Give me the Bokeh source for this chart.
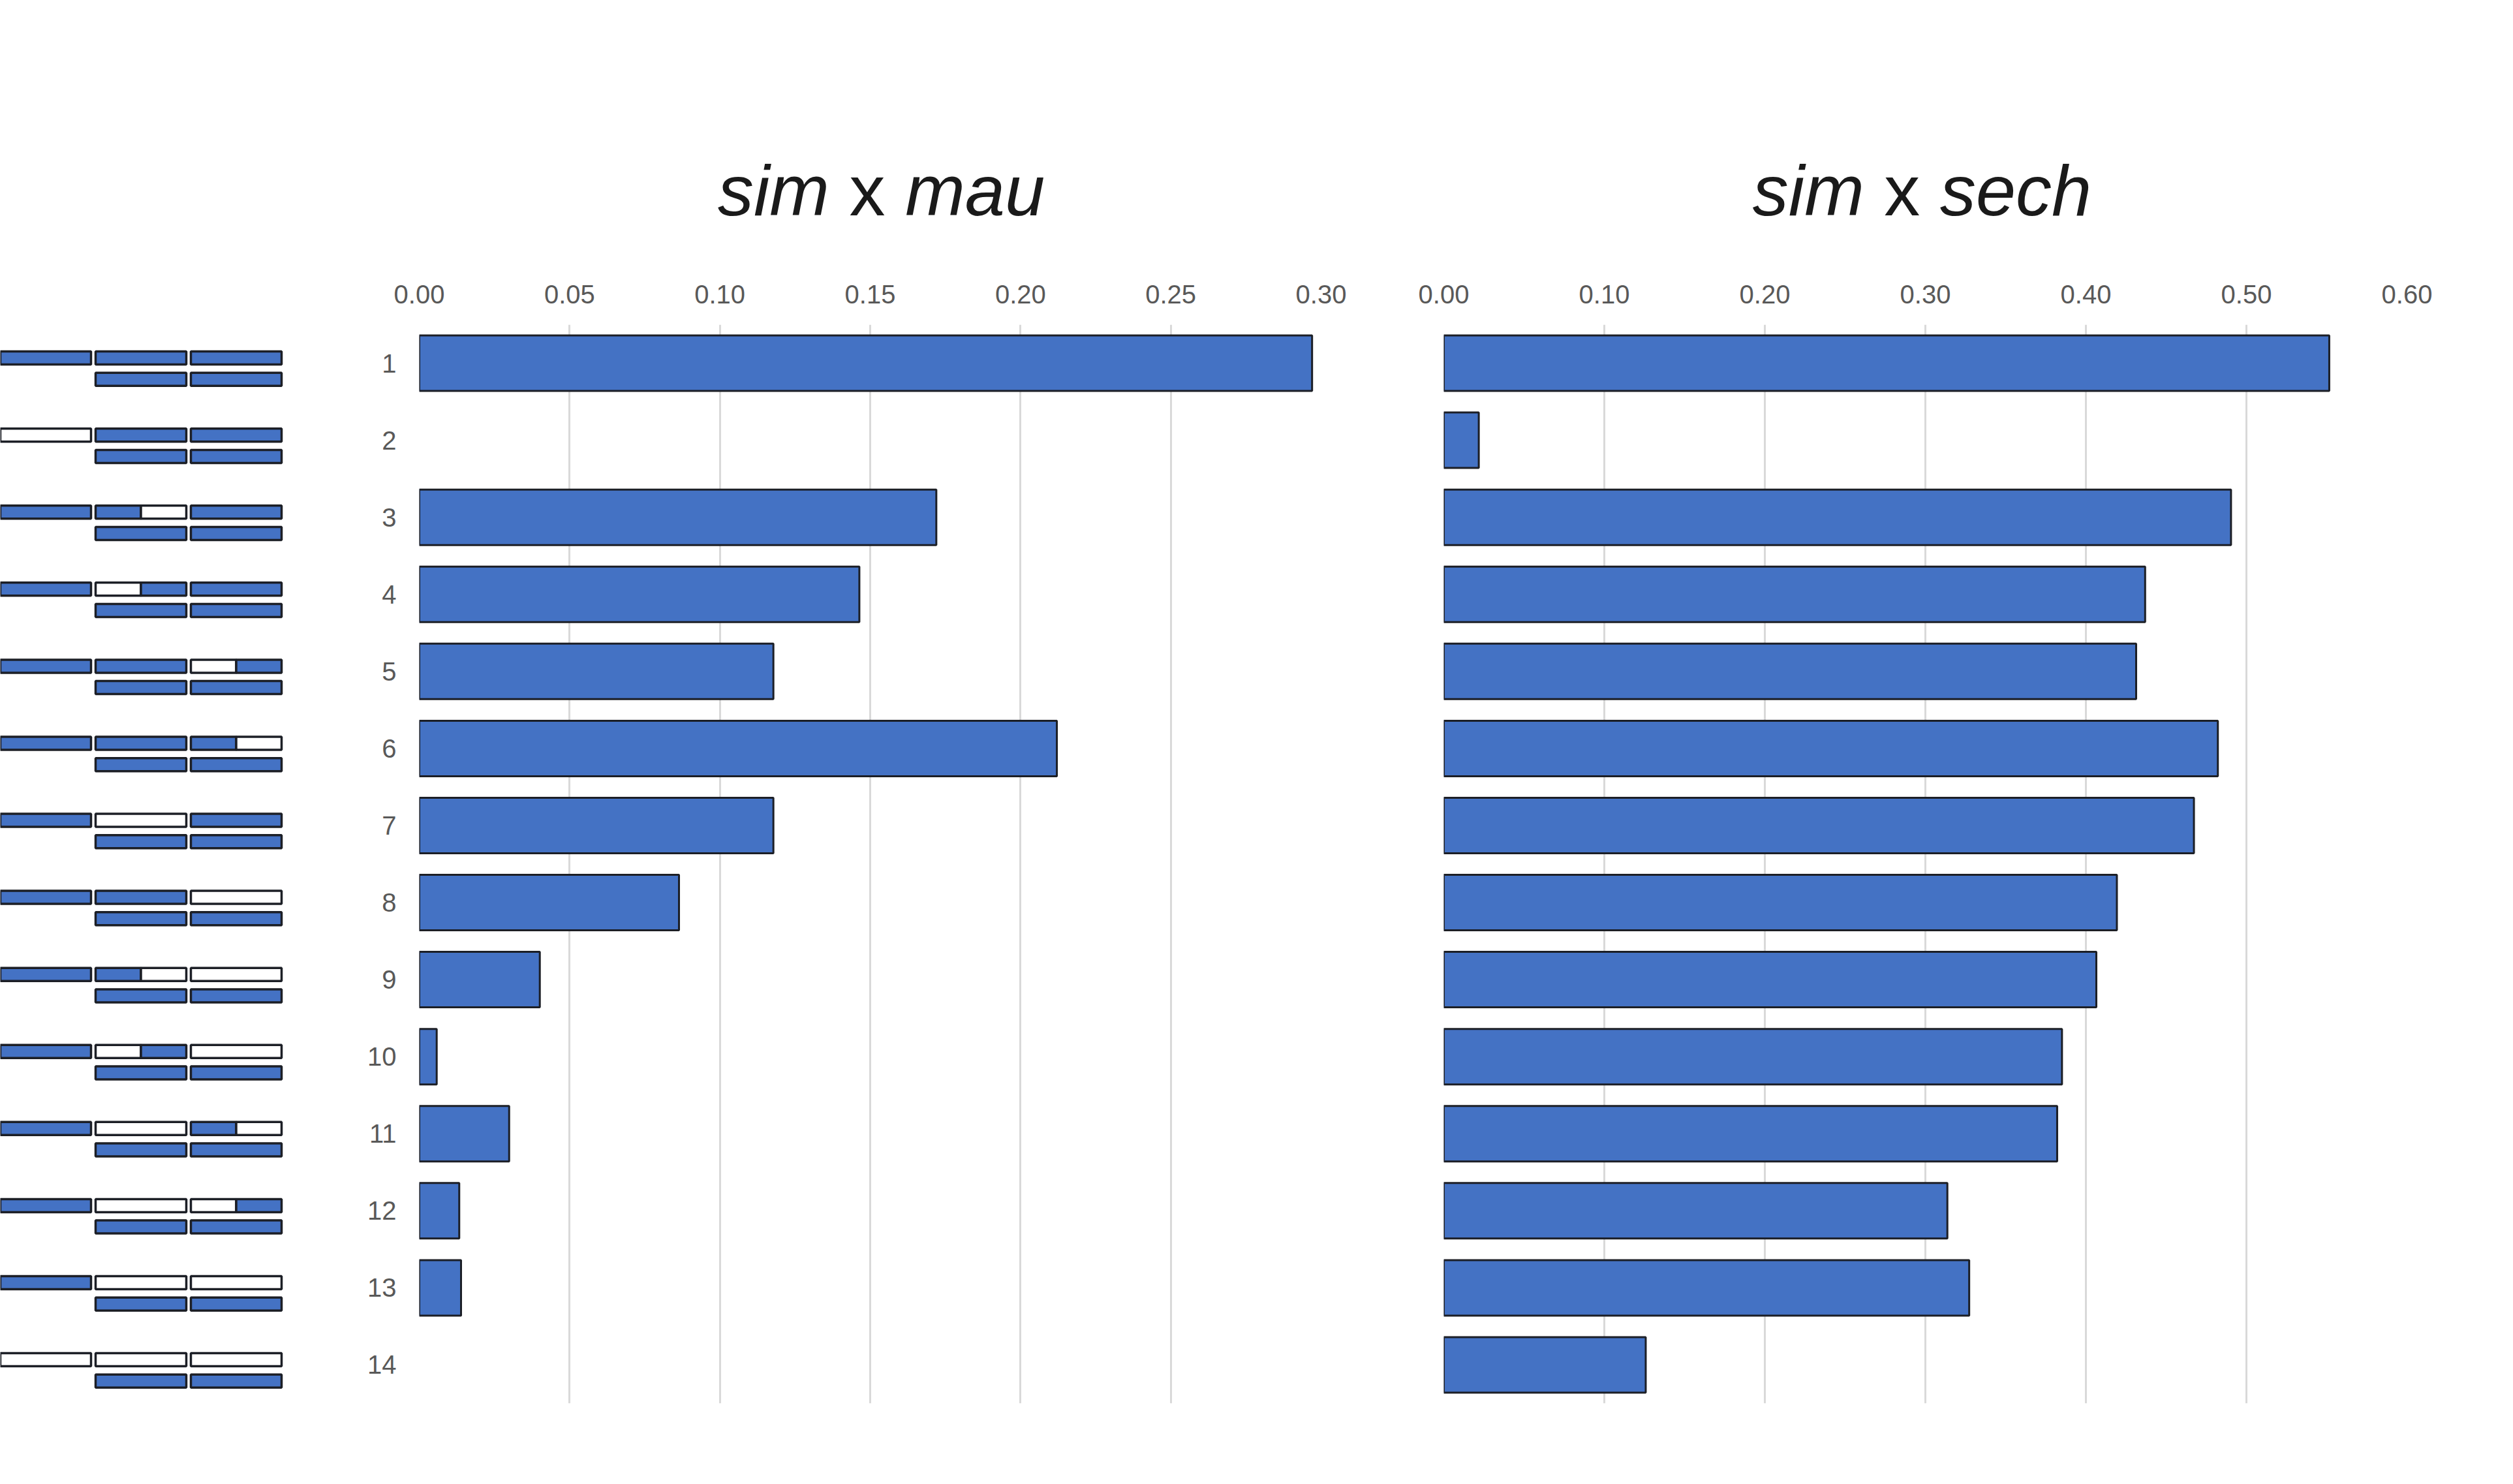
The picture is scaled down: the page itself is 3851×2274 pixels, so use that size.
from bokeh.plotting import figure
from bokeh.layouts import column, row
from bokeh.models import Range1d, FixedTicker, NumeralTickFormatter
from bokeh.core.properties import value
from bokeh.embed import file_html
from bokeh.resources import INLINE

# ---------------- data ----------------
row_labels = [str(i) for i in range(1, 15)]
sim_mau = [0.2970, 0.0, 0.1720, 0.1464, 0.1178, 0.2121, 0.1178, 0.0864,
           0.0401, 0.0058, 0.0299, 0.0133, 0.0139, 0.0]
sim_sech = [0.5516, 0.0218, 0.4904, 0.4369, 0.4313, 0.4822, 0.4673, 0.4193,
            0.4065, 0.3851, 0.3821, 0.3137, 0.3273, 0.1258]
# diagram: top strip state per column (B = filled, W = empty, BW / WB = halves)
top_col1 = ["B", "W", "B", "B", "B", "B", "B", "B", "B", "B", "B", "B", "B", "W"]
top_col2 = ["B", "B", "BW", "WB", "B", "B", "W", "B", "BW", "WB", "W", "W", "W", "W"]
top_col3 = ["B", "B", "B", "B", "WB", "BW", "B", "W", "W", "W", "BW", "WB", "W", "W"]
bottom_col2 = ["B"] * 14
bottom_col3 = ["B"] * 14
left_ticks = [0.0, 0.05, 0.10, 0.15, 0.20, 0.25, 0.30]
right_ticks = [0.0, 0.1, 0.2, 0.3, 0.4, 0.5, 0.6]
title_left = [("sim", "italic"), ("x", "normal"), ("mau", "italic")]
title_right = [("sim", "italic"), ("x", "normal"), ("sech", "italic")]

# ---------------- style ----------------
BLUE = "#4472C4"
EDGE = "#1c1f26"
GRID = "#d9d9d9"
TICK = "#595959"
FONT = "Liberation Sans"
TOP_B, BOT_B = 109, 116
FIG_H = 1878

ypos = list(range(1, len(row_labels) + 1))
yr = Range1d(len(row_labels) + 0.5, 0.5)


def style_bar_fig(p, ticks):
    p.outline_line_color = None
    p.ygrid.visible = False
    p.xgrid.grid_line_color = GRID
    p.xgrid.grid_line_width = 3
    p.xgrid.ticker = FixedTicker(ticks=ticks)
    ax = p.xaxis[0]
    ax.ticker = FixedTicker(ticks=ticks)
    ax.formatter = NumeralTickFormatter(format="0.00")
    ax.axis_line_color = None
    ax.major_tick_line_color = None
    ax.minor_tick_line_color = None
    ax.major_tick_out = 0
    ax.major_tick_in = 0
    ax.major_label_standoff = 33
    ax.major_label_text_font = FONT
    ax.major_label_text_font_size = "40px"
    ax.major_label_text_color = TICK


# ---------------- left bar chart ----------------
pl = figure(width=1660, height=FIG_H, x_range=Range1d(0, 0.30), y_range=yr,
            x_axis_location="above", y_axis_location="left",
            output_backend="svg", toolbar_location=None,
            min_border_left=192, min_border_right=86,
            min_border_top=TOP_B, min_border_bottom=BOT_B)
style_bar_fig(pl, left_ticks)
yax = pl.yaxis[0]
yax.ticker = FixedTicker(ticks=ypos)
yax.major_label_overrides = {y: lab for y, lab in zip(ypos, row_labels)}
yax.axis_line_color = None
yax.major_tick_line_color = None
yax.minor_tick_line_color = None
yax.major_tick_out = 0
yax.major_tick_in = 0
yax.major_label_standoff = 35
yax.major_label_text_font = FONT
yax.major_label_text_font_size = "40px"
yax.major_label_text_color = TICK
lm = [(y, v) for y, v in zip(ypos, sim_mau) if v > 0]
pl.hbar(y=[a for a, _ in lm], left=0, right=[b for _, b in lm], height=0.72,
        fill_color=BLUE, line_color=EDGE, line_width=3)

# ---------------- right bar chart ----------------
pr = figure(width=1725, height=FIG_H, x_range=Range1d(0, 0.60), y_range=yr,
            x_axis_location="above", y_axis_location=None,
            output_backend="svg", toolbar_location=None,
            min_border_left=102, min_border_right=147,
            min_border_top=TOP_B, min_border_bottom=BOT_B)
style_bar_fig(pr, right_ticks)
rm = [(y, v) for y, v in zip(ypos, sim_sech) if v > 0]
pr.hbar(y=[a for a, _ in rm], left=0, right=[b for _, b in rm], height=0.72,
        fill_color=BLUE, line_color=EDGE, line_width=3)

# ---------------- diagram ----------------
pd_ = figure(width=450, height=FIG_H, x_range=Range1d(0, 450), y_range=yr,
             x_axis_location=None, y_axis_location=None,
             output_backend="svg", toolbar_location=None,
             min_border_left=0, min_border_right=0,
             min_border_top=TOP_B, min_border_bottom=BOT_B)
pd_.outline_line_color = None
pd_.grid.visible = False

cols = [(0, 139), (146, 285), (292, 431)]
TOP_OFF, BOT_OFF = -0.067, 0.21
xs, ys, ws, fills = [], [], [], []


def add_strip(y, bounds, state):
    a, b = bounds
    m = (a + b) / 2
    if len(state) == 1:
        parts = [(a, b, state)]
    else:
        parts = [(a, m, state[0]), (m, b, state[1])]
    for l, r, s in parts:
        xs.append((l + r) / 2)
        ys.append(y)
        ws.append(r - l)
        fills.append(BLUE if s == "B" else "white")


for i, y in enumerate(ypos):
    add_strip(y + TOP_OFF, cols[0], top_col1[i])
    add_strip(y + TOP_OFF, cols[1], top_col2[i])
    add_strip(y + TOP_OFF, cols[2], top_col3[i])
    add_strip(y + BOT_OFF, cols[1], bottom_col2[i])
    add_strip(y + BOT_OFF, cols[2], bottom_col3[i])

pd_.rect(x=xs, y=ys, width=ws, height=20, height_units="screen",
         fill_color=fills, line_color=EDGE, line_width=3.5)

# ---------------- titles ----------------
pt = figure(width=3835, height=388, x_range=Range1d(0, 3835), y_range=Range1d(388, 0),
            x_axis_location=None, y_axis_location=None,
            output_backend="svg", toolbar_location=None,
            min_border_left=0, min_border_right=0, min_border_top=0, min_border_bottom=0)
pt.outline_line_color = None
pt.grid.visible = False

EM = {"s": 0.5, "i": 0.222, "m": 0.833, "x": 0.5, "a": 0.556,
      "u": 0.556, "e": 0.556, "c": 0.5, "h": 0.556}
SPACE = 0.278
TSIZE = 110


def draw_title(parts, center_x, base_y):
    widths = [sum(EM[c] for c in t) * TSIZE for t, _ in parts]
    total = sum(widths) + SPACE * TSIZE * (len(parts) - 1)
    x0 = center_x - total / 2
    for (t, style), w in zip(parts, widths):
        pt.text(x=[x0], y=[base_y], text=[t], text_font=value(FONT),
                text_font_size=f"{TSIZE}px", text_font_style=style,
                text_color="#1a1a1a", text_align="left", text_baseline="alphabetic")
        x0 += w + SPACE * TSIZE


draw_title(title_left, 1350, 291)
draw_title(title_right, 2945, 291)

layout = column(pt, row(pd_, pl, pr))
open("out.html", "w").write(file_html(layout, INLINE))
